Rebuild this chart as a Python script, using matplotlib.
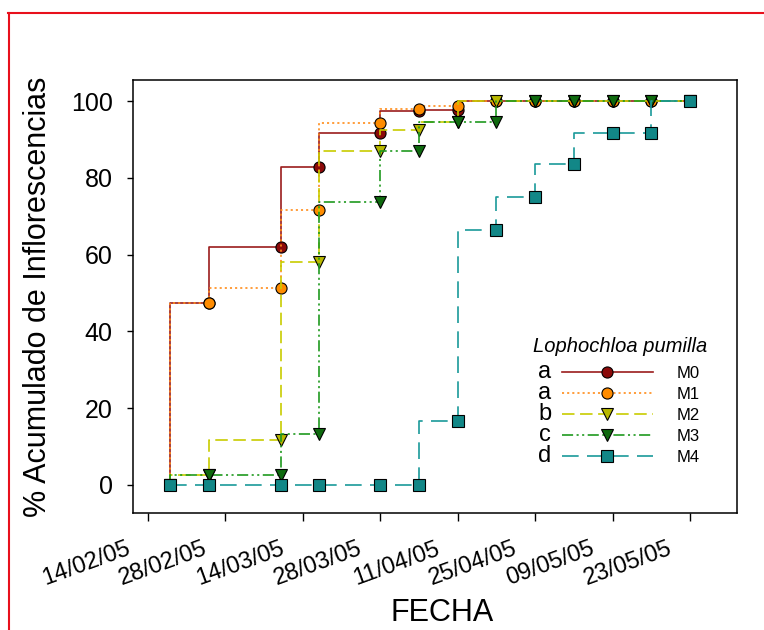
import matplotlib
matplotlib.use('Agg')
import matplotlib.pyplot as plt
import matplotlib.dates as mdates
from matplotlib.lines import Line2D
from matplotlib.transforms import ScaledTranslation
import datetime as dt

plt.rcParams['font.family'] = ['Liberation Sans', 'DejaVu Sans']
plt.rcParams['lines.scale_dashes'] = False

# ---------------- data ----------------
sample_dates = ['18/02/05', '25/02/05', '10/03/05', '17/03/05', '28/03/05', '04/04/05',
                '11/04/05', '18/04/05', '25/04/05', '02/05/05', '09/05/05', '16/05/05', '23/05/05']
tick_dates = ['14/02/05', '28/02/05', '14/03/05', '28/03/05', '11/04/05', '25/04/05',
              '09/05/05', '23/05/05']
series_names = ['M0', 'M1', 'M2', 'M3', 'M4']
group_letters = ['a', 'a', 'b', 'c', 'd']
legend_title = 'Lophochloa pumilla'

m0 = [0, 47.4, 62.0, 82.8, 91.7, 97.5, 97.8, 100, 100, 100, 100, 100, 100]
m1 = [0, 47.4, 51.4, 71.7, 94.2, 98.0, 98.6, 100, 100, 100, 100, 100, 100]
m2 = [0, 2.7, 11.8, 58.0, 87.0, 92.4, 94.5, 100, 100, 100, 100, 100, 100]
m3 = [0, 2.7, 2.7, 13.2, 73.7, 87.0, 94.5, 94.5, 100, 100, 100, 100, 100]
m4 = [0, 0, 0, 0, 0, 0, 16.6, 66.5, 75.0, 83.5, 91.7, 91.7, 100]
series_values = [m0, m1, m2, m3, m4]

# ---------------- styles ----------------
line_colors = ['#9B1C1C', '#FF8C1A', '#C8CC00', '#1F9A1F', '#1A9A9A']
face_colors = ['#8B0A0A', '#FF8C00', '#B8B800', '#0F6A0F', '#128787']
markers = ['o', 'o', 'v', 'v', 's']
styles = ['-', (0, (1.5, 2.2)), (0, (9, 4)), (0, (8, 2.5, 1.5, 2.5, 1.5, 2.5)), (0, (12, 6))]

def parse(s):
    return dt.datetime.strptime(s, '%d/%m/%y')

x = [parse(s) for s in sample_dates]
ticks = [parse(s) for s in tick_dates]

W, H = 764, 630
fig = plt.figure(figsize=(W / 100, H / 100), dpi=100)
ax = fig.add_axes([133 / W, 1 - 513 / H, (737 - 133) / W, (513 - 80) / H])

for vals, name, lc, fc, mk, ls in zip(series_values, series_names, line_colors,
                                      face_colors, markers, styles):
    ax.plot(x, vals, drawstyle='steps-pre', color=lc, linestyle=ls, linewidth=1.2,
            marker=mk, markersize=8, markerfacecolor=fc, markeredgecolor='black',
            markeredgewidth=0.8, label=name)

ax.set_xlim(ticks[0] - dt.timedelta(days=2.7), ticks[0] + dt.timedelta(days=106.5))
ax.set_ylim(-7.3, 105.5)
ax.set_xticks(ticks)
ax.xaxis.set_major_formatter(mdates.DateFormatter('%d/%m/%y'))
ax.set_yticks([0, 20, 40, 60, 80, 100])

for sp in ax.spines.values():
    sp.set_linewidth(1.1)
ax.tick_params(axis='x', direction='out', length=6, width=1.0, pad=12, labelsize=17)
ax.tick_params(axis='y', direction='out', length=4.5, width=1.0, pad=10, labelsize=18)
off = ScaledTranslation(-15 / 100, 0, fig.dpi_scale_trans)
for lab in ax.get_xticklabels():
    lab.set_rotation(20)
    lab.set_ha('right')
    lab.set_transform(lab.get_transform() + off)

ax.set_ylabel('% Acumulado de Inflorescencias', fontsize=22)
ax.yaxis.set_label_coords(-0.132, 0.5)
ax.set_xlabel('FECHA', fontsize=22)
ax.xaxis.set_label_coords(0.512, -0.197)

# legend title as a separate text, legend keys below it
ax.text(0.662, 0.372, legend_title, transform=ax.transAxes, fontsize=14.5,
        style='italic', ha='left', va='baseline')
leg = ax.legend(loc='upper left', bbox_to_anchor=(0.710, 0.339), frameon=False,
                fontsize=12, handlelength=5.45, handletextpad=1.45, labelspacing=0.36,
                borderpad=0, borderaxespad=0, numpoints=1)

# red frame of the original page
red = '#E8101C'
fig.add_artist(Line2D([8 / W, 1], [1 - 12.5 / H] * 2, transform=fig.transFigure,
                      color=red, linewidth=1.5))
fig.add_artist(Line2D([9 / W] * 2, [0, 1 - 12.5 / H], transform=fig.transFigure,
                      color=red, linewidth=1.5))

# group letters left of each legend key
fig.canvas.draw()
renderer = fig.canvas.get_renderer()
for handle, letter in zip(leg.get_lines(), group_letters):
    bb = handle.get_window_extent(renderer)
    xc = bb.x0 - 5
    yc = (bb.y0 + bb.y1) / 2 - 6
    fig.text(xc / W, yc / H, letter, fontsize=17, ha='right', va='baseline')

fig.savefig('out.png', dpi=100, facecolor='white')
